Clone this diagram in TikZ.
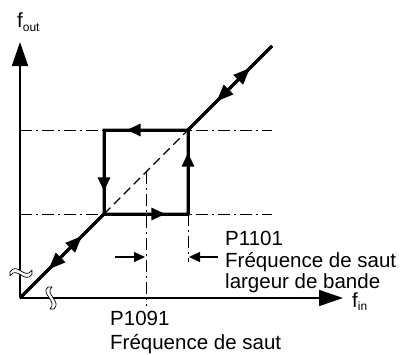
\documentclass[tikz,border=0pt]{standalone}
\usepackage{fontspec}
\setmainfont{Liberation Sans}
\usetikzlibrary{arrows.meta,decorations.markings}

\begin{document}
\begin{tikzpicture}[x=1pt, y=1pt,
  axis/.style={line width=1.6pt, -{Triangle[length=24pt,width=16pt]}},
  hyst/.style={line width=3pt},
  guide/.style={line width=0.8pt, dash pattern=on 12pt off 4pt on 2pt off 4pt},
  brk/.style={fill=white, draw=black, line width=0.7pt, line join=round},
  lbl/.style={font=\fontsize{20.5}{22}\selectfont, inner sep=0pt, anchor=base west},
  pin/.style={line width=1.2pt, -{Triangle[length=11pt,width=10pt]}},
  oneway/.style={postaction={decorate, decoration={markings,
    mark=at position 0.73 with {\arrow{Triangle[length=14pt,width=12pt]}}}}},
  twoway/.style={postaction={decorate, decoration={markings,
    mark=at position 0.34 with {\arrowreversed{Triangle[length=17pt,width=13pt]}},
    mark=at position 0.74 with {\arrow{Triangle[length=17pt,width=13pt]}}}}}]
\def\s{84}
\useasboundingbox (-20,-56) rectangle (386,298);
% corners
\coordinate (O) at (0,0);
\coordinate (A) at (\s,\s);
\coordinate (B) at (2*\s,\s);
\coordinate (C) at (2*\s,2*\s);
\coordinate (D) at (\s,2*\s);
\coordinate (E) at (3*\s,3*\s);
\coordinate (ytop) at (0,256);
\coordinate (xend) at (323,0);
\coordinate (m) at (1.5*\s,1.5*\s);
\coordinate (mfoot) at (1.5*\s,-8);
\coordinate (bfoot) at (2*\s,36);
% axes
\draw[axis] (O) -- (ytop);
\draw[axis] (O) -- (xend);
% guides
\draw[guide] (O |- A) -- (E |- A);
\draw[guide] (O |- C) -- (E |- C);
\draw[guide] (B) -- (bfoot);
\draw[guide] (m) -- (mfoot);
\draw[line width=1.2pt, dash pattern=on 9pt off 5pt] (A) -- (C);
% axis breaks
\filldraw[brk] (-10,22) .. controls (-3,33) and (5,13) .. (12,24)
  -- (12,28) .. controls (5,17) and (-3,37) .. (-10,26) -- cycle;
\filldraw[brk] (28,11) .. controls (20,4) and (38,-3) .. (30,-11)
  -- (34,-11) .. controls (42,-3) and (24,4) .. (32,11) -- cycle;
% hysteresis
\draw[hyst] (O) -- (A) -- (B) -- (C) -- (D) -- (A);
\draw[hyst] (C) -- (E);
\draw[hyst, twoway] (O) -- (A);
\draw[hyst, twoway] (C) -- (E);
\draw[hyst, oneway] (A) -- (B);
\draw[hyst, oneway] (B) -- (C);
\draw[hyst, oneway] (C) -- (D);
\draw[hyst, oneway] (D) -- (A);
% band
\coordinate (l1) at (95,41);
\coordinate (l2) at (1.5*\s-1,41);
\coordinate (r1) at (198,41);
\coordinate (r2) at (2*\s+1,41);
\draw[pin] (l1) -- (l2);
\draw[pin] (r1) -- (r2);
% labels
\node[lbl] (fout) at (-3,270) {f{\fontsize{12}{14}\selectfont\raisebox{-4pt}{out}}};
\node[lbl] (fin) at (332,-9) {f{\fontsize{12}{14}\selectfont\raisebox{-3pt}{in}}};
\node[lbl] (p1101) at (205,53) {P1101};
\node[lbl] (jumpa) at (205,31) {Fréquence de saut};
\node[lbl] (band) at (205,10) {largeur de bande};
\node[lbl] (p1091) at (90,-27) {P1091};
\node[lbl] (jumpb) at (90,-51) {Fréquence de saut};
\end{tikzpicture}
\end{document}
